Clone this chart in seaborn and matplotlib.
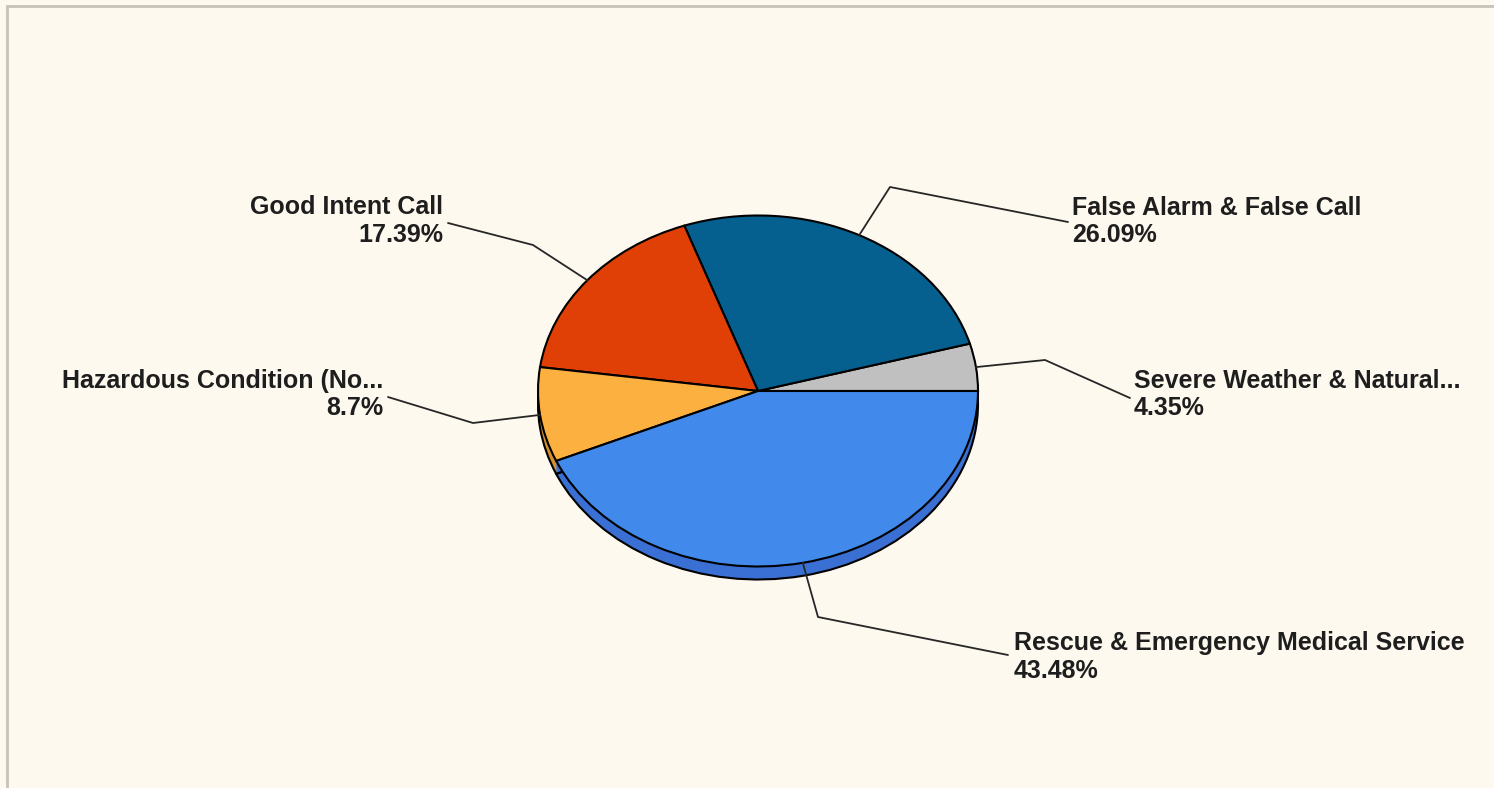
import numpy as np
import matplotlib
matplotlib.use("Agg")
import matplotlib.pyplot as plt
import seaborn as sns

# ---- data ----
categories = ["Severe Weather & Natural...", "False Alarm & False Call", "Good Intent Call",
              "Hazardous Condition (No...", "Rescue & Emergency Medical Service"]
percent_labels = ["4.35%", "26.09%", "17.39%", "8.7%", "43.48%"]
values = [4.35, 26.09, 17.39, 8.70, 43.48]
top_colors = ["#C0C0C0", "#05608F", "#E04006", "#FBB040", "#4189EA"]
side_colors = ["#9C9C9C", "#044A6E", "#B03305", "#D38F2C", "#3A70D4"]

sns.set_theme(style="white")
plt.rcParams["font.family"] = ["Liberation Sans", "DejaVu Sans"]

W, H = 1494, 788
BG = "#FEF9EF"
fig = plt.figure(figsize=(W / 100, H / 100), dpi=100, facecolor=BG)

# pie geometry (pixels)
cx, cy, rx, ry, depth = 758, 391, 220, 175.5, 13

ax = fig.add_axes([0, 0, 1, 1])
ax.set_facecolor("none")
nsteps = 16
for k in range(nsteps, 0, -1):
    off = depth / ry * k / nsteps
    ax.pie(values, colors=side_colors, startangle=0, counterclock=True,
           center=(0, -off), radius=1,
           wedgeprops=dict(linewidth=0, edgecolor="none"))
ax.pie(values, colors=side_colors, startangle=0, counterclock=True,
       center=(0, -depth / ry), radius=1,
       wedgeprops=dict(linewidth=1.5, edgecolor="black", fill=False))
ax.pie(values, colors=top_colors, startangle=0, counterclock=True,
       center=(0, 0), radius=1,
       wedgeprops=dict(linewidth=1.5, edgecolor="black"))
ax.set_aspect("auto")
ax.set_xlim(-cx / rx, (W - cx) / rx)
ax.set_ylim(-(H - cy) / ry, cy / ry)
ax.axis("off")

# overlay in pixel coords
ax2 = fig.add_axes([0, 0, 1, 1])
ax2.set_xlim(0, W)
ax2.set_ylim(H, 0)
ax2.axis("off")
ax2.patch.set_alpha(0)

# frame (top and left)
ax2.plot([6, W], [5.5, 5.5], color="#C8C2B8", lw=2, solid_capstyle="butt")
ax2.plot([6.5, 6.5], [5, H], color="#C8C2B8", lw=2, solid_capstyle="butt")

vals = np.array(values)
cum = np.concatenate([[0], np.cumsum(vals)]) / vals.sum() * 2 * np.pi
mids = (cum[:-1] + cum[1:]) / 2
disp = ax.transData.transform(np.c_[np.cos(mids), np.sin(mids)])
starts = ax2.transData.inverted().transform(disp)

elbows = [(1045, 360), (890, 187), (533, 245), (473, 423), (818, 617)]
ends = [(1130, 398), (1068, 222), (448, 223), (388, 397), (1008, 655)]
text_pos = [(1134, "left", 388, 415), (1072, "left", 215, 242), (443, "right", 214, 242),
            (383, "right", 388, 415), (1014, "left", 650, 678)]

for i in range(len(values)):
    sx, sy = starts[i]
    ex, ey = elbows[i]
    tx, ty = ends[i]
    ax2.plot([sx, ex, tx], [sy, ey, ty], color="#262626", lw=1.3)
    x, ha, b1, b2 = text_pos[i]
    ax2.text(x, b1, categories[i], ha=ha, va="baseline", fontsize=18,
             fontweight="bold", color="#1E1E1E")
    ax2.text(x, b2, percent_labels[i], ha=ha, va="baseline", fontsize=18,
             fontweight="bold", color="#1E1E1E")

fig.savefig("out.png", dpi=100, facecolor=BG)
